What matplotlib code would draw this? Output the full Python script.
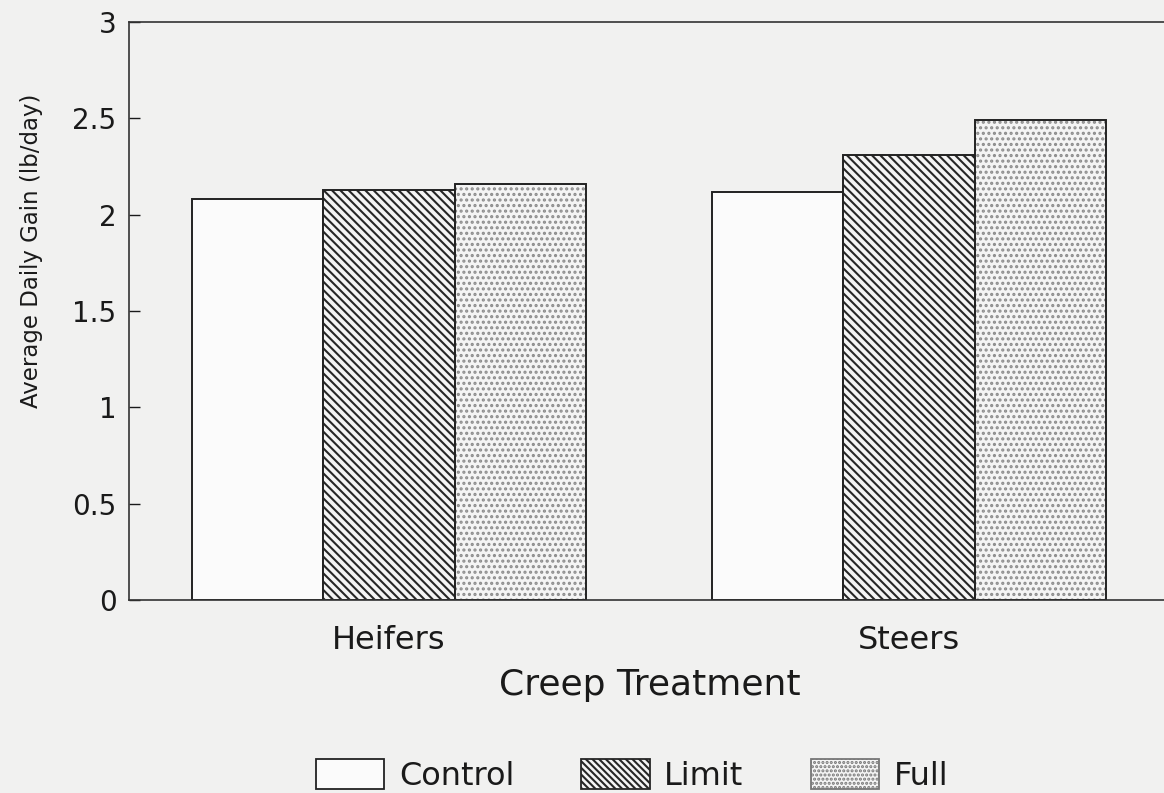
import matplotlib as mpl
mpl.use('Agg')
import matplotlib.pyplot as plt
from matplotlib.patches import Patch
import numpy as np

# Data
groups = ["Heifers", "Steers"]
treatments = ["Control", "Limit", "Full"]
control = [2.08, 2.12]
limit = [2.13, 2.31]
full = [2.16, 2.49]
yticks = [0, 0.5, 1, 1.5, 2, 2.5, 3]
ytick_labels = ["0", "0.5", "1", "1.5", "2", "2.5", "3"]

plt.rcParams['font.family'] = ['DejaVu Sans']
plt.rcParams['hatch.linewidth'] = 1.5

bg = '#f1f1f0'
fig = plt.figure(figsize=(11.64, 7.93), dpi=100, facecolor=bg)
ax = fig.add_axes([0.1108, 0.2434, 0.8935, 0.7289])
ax.set_facecolor(bg)

x = np.arange(len(groups))
w = 0.252
series = [control, limit, full]
fills = ['#fbfbfb', '#f4f4f4', '#f4f4f4']
hatches = [None, '\\\\\\\\', '...']
hatch_cols = ['none', '#262626', '#8c8c8c']

for i, vals in enumerate(series):
    pos = x + (i - 1) * w
    # hatch layer in its own colour, then the dark outline on top
    ax.bar(pos, vals, w, color=fills[i], hatch=hatches[i],
           edgecolor=hatch_cols[i], linewidth=0)
    ax.bar(pos, vals, w, fill=False, edgecolor='#222222', linewidth=1.4)

ax.set_xlim(-0.5, 1.5)
ax.set_ylim(0, 3)
ax.set_yticks(yticks)
ax.set_yticklabels(ytick_labels)
ax.set_xticks(x)
ax.set_xticklabels(groups)
ax.tick_params(axis='y', direction='in', length=8, width=1, pad=9,
               labelsize=20, colors='#1a1a1a')
ax.tick_params(axis='x', length=0, pad=18, labelsize=23, colors='#1a1a1a')
for s in ax.spines.values():
    s.set_linewidth(1.2)
    s.set_color('#333333')

ax.set_ylabel("Average Daily Gain (lb/day)", fontsize=16.5, color='#1a1a1a')
ax.yaxis.set_label_coords(-0.083, 0.604)
ax.set_xlabel("Creep Treatment", fontsize=26, color='#1a1a1a')
ax.xaxis.set_label_coords(0.501, -0.118)

# legend along the bottom edge
handles = [
    Patch(facecolor='#fbfbfb', edgecolor='#222222', linewidth=1.3),
    Patch(facecolor='#f4f4f4', edgecolor='#262626', hatch='\\\\\\\\\\', linewidth=1.3),
    Patch(facecolor='#f4f4f4', edgecolor='#777777', hatch='....', linewidth=1.3),
]
fig.legend(handles, treatments, loc='lower center', bbox_to_anchor=(632 / 1164, 1 / 793),
           ncol=3, frameon=False, fontsize=23, handlelength=2.15, handleheight=1.1,
           handletextpad=0.45, columnspacing=2.1, borderpad=0, borderaxespad=0,
           labelcolor='#1a1a1a')

plt.savefig('out.png', dpi=100, facecolor=bg)
